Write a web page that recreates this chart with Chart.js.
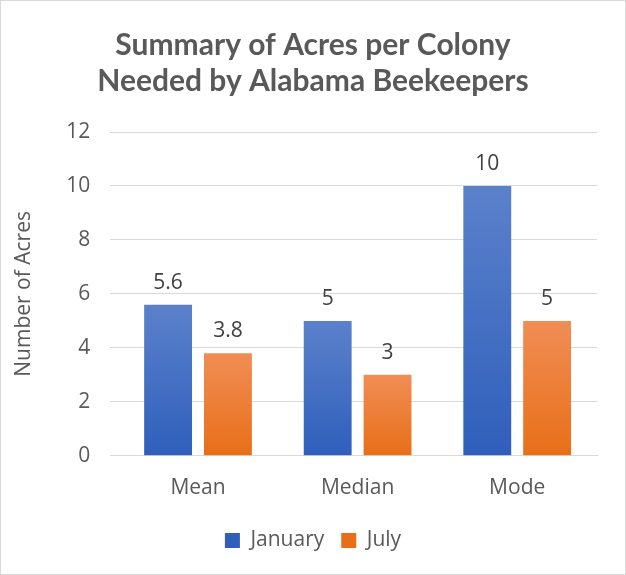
<!DOCTYPE html>
<html>
<head>
<meta charset="utf-8">
<script src="https://cdn.jsdelivr.net/npm/chart.js@4.4.1/dist/chart.umd.min.js"></script>
<style>
  body { margin: 0; background: #fff; }
  #wrap { width: 624px; height: 573px; border: 1px solid #d9d9d9; position: relative; }
</style>
</head>
<body>
<div id="wrap"><canvas id="chart"></canvas></div>
<script>
  var categories = ["Mean", "Median", "Mode"];
  var january = [5.6, 5, 10];
  var july = [3.8, 3, 5];
  var seriesNames = ["January", "July"];

  function barGradient(top, bottom) {
    return function(ctx) {
      var chart = ctx.chart;
      if (!chart.chartArea || ctx.type !== 'data') return bottom;
      var yScale = chart.scales.y;
      var yTop = yScale.getPixelForValue(ctx.raw);
      var yBase = yScale.getPixelForValue(0);
      var g = chart.ctx.createLinearGradient(0, yTop, 0, yBase);
      g.addColorStop(0, top);
      g.addColorStop(1, bottom);
      return g;
    };
  }

  var valueLabels = {
    id: 'valueLabels',
    afterDatasetsDraw: function(chart) {
      var c = chart.ctx;
      c.save();
      c.font = '21px "Open Sans", sans-serif';
      c.fillStyle = '#404040';
      c.textAlign = 'center';
      c.textBaseline = 'alphabetic';
      chart.data.datasets.forEach(function(ds, i) {
        chart.getDatasetMeta(i).data.forEach(function(bar, j) {
          c.fillText(ds.data[j], bar.x, bar.y - 16);
        });
      });
      c.restore();
    }
  };

  // center title and legend on the whole canvas, not the padded area
  var recenter = {
    id: 'recenter',
    afterLayout: function(chart) {
      [chart.titleBlock, chart.legend].forEach(function(box) {
        if (!box) return;
        box.left = 0;
        box.right = chart.width;
      });
    }
  };

  var font = '"Open Sans", sans-serif';
  var ctx = document.getElementById('chart');
  new Chart(ctx, {
    type: 'bar',
    data: {
      labels: categories,
      datasets: [{
        label: seriesNames[0],
        data: january,
        backgroundColor: barGradient('#5b81cb', '#2f5fbb'),
        categoryPercentage: 0.75,
        barPercentage: 0.8
      }, {
        label: seriesNames[1],
        data: july,
        backgroundColor: barGradient('#f08d55', '#e86f18'),
        categoryPercentage: 0.75,
        barPercentage: 0.8
      }]
    },
    options: {
      responsive: true,
      maintainAspectRatio: false,
      animation: false,
      layout: { padding: { left: 6, right: 28, top: 0, bottom: 13 } },
      plugins: {
        title: {
          display: true,
          text: ["Summary of Acres per Colony", "Needed by Alabama Beekeepers"],
          color: '#595959',
          font: { family: 'Lato, "Open Sans", sans-serif', size: 30, weight: 'bold', lineHeight: 1.2 },
          padding: { top: 26, bottom: 33 }
        },
        legend: {
          position: 'bottom',
          labels: {
            color: '#595959',
            font: { family: font, size: 21 },
            boxWidth: 15,
            boxHeight: 15,
            padding: 17
          }
        },
        tooltip: { enabled: false }
      },
      scales: {
        x: {
          grid: { display: false },
          border: { color: '#d9d9d9' },
          ticks: { color: '#595959', font: { family: font, size: 21 }, padding: 12 }
        },
        y: {
          min: 0,
          max: 12,
          ticks: { stepSize: 2, color: '#595959', font: { family: font, size: 21 }, padding: 20 },
          grid: { color: '#d9d9d9' },
          border: { display: false },
          title: {
            display: true,
            text: 'Number of Acres',
            color: '#595959',
            font: { family: font, size: 21 },
            padding: { top: 4, bottom: 10 }
          }
        }
      }
    },
    plugins: [valueLabels, recenter]
  });
</script>
</body>
</html>
